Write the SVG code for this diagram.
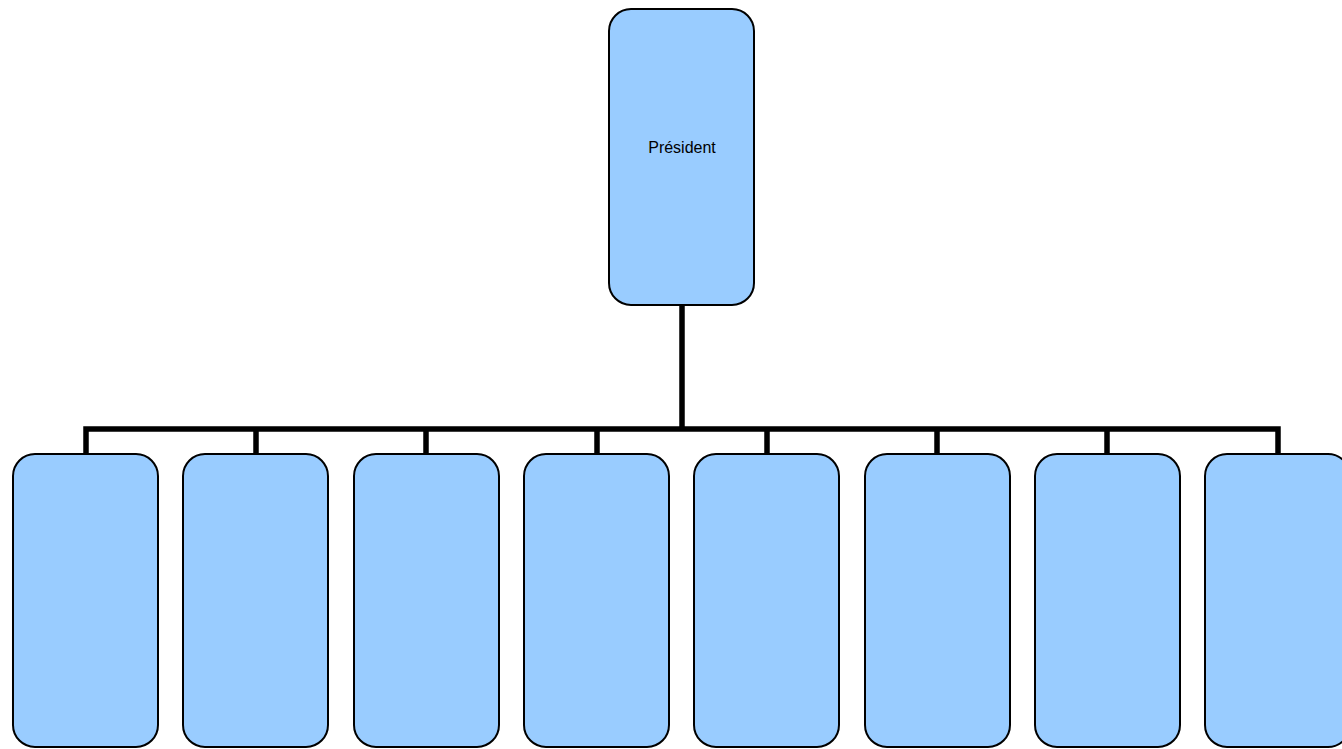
<svg xmlns="http://www.w3.org/2000/svg" width="1342" height="749" viewBox="0 0 1342 749">
<style>
.box{fill:#99ccff;stroke:#000;stroke-width:2}
.conn{fill:none;stroke:#000;stroke-width:5.5;stroke-linecap:square}
.lbl{font-family:"Liberation Sans",Arial,sans-serif;font-size:16px;fill:#000;text-anchor:middle}
</style>
<rect width="1342" height="749" fill="#fff"/>
<g id="connectors">
<path class="conn" d="M682,306 V429 M86,451 V429 H1278 V451 M256,429 V451 M426,429 V451 M597,429 V451 M767,429 V451 M937,429 V451 M1107,429 V451"/>
</g>
<g id="president">
<rect class="box" x="609" y="9" width="145" height="296" rx="22"/>
<text class="lbl" x="682" y="153">Président</text>
</g>
<g id="n1"><rect class="box" x="13" y="454" width="145" height="293" rx="22"/></g>
<g id="n2"><rect class="box" x="183" y="454" width="145" height="293" rx="22"/></g>
<g id="n3"><rect class="box" x="354" y="454" width="145" height="293" rx="22"/></g>
<g id="n4"><rect class="box" x="524" y="454" width="145" height="293" rx="22"/></g>
<g id="n5"><rect class="box" x="694" y="454" width="145" height="293" rx="22"/></g>
<g id="n6"><rect class="box" x="865" y="454" width="145" height="293" rx="22"/></g>
<g id="n7"><rect class="box" x="1035" y="454" width="145" height="293" rx="22"/></g>
<g id="n8"><rect class="box" x="1205" y="454" width="145" height="293" rx="22"/></g>
</svg>
